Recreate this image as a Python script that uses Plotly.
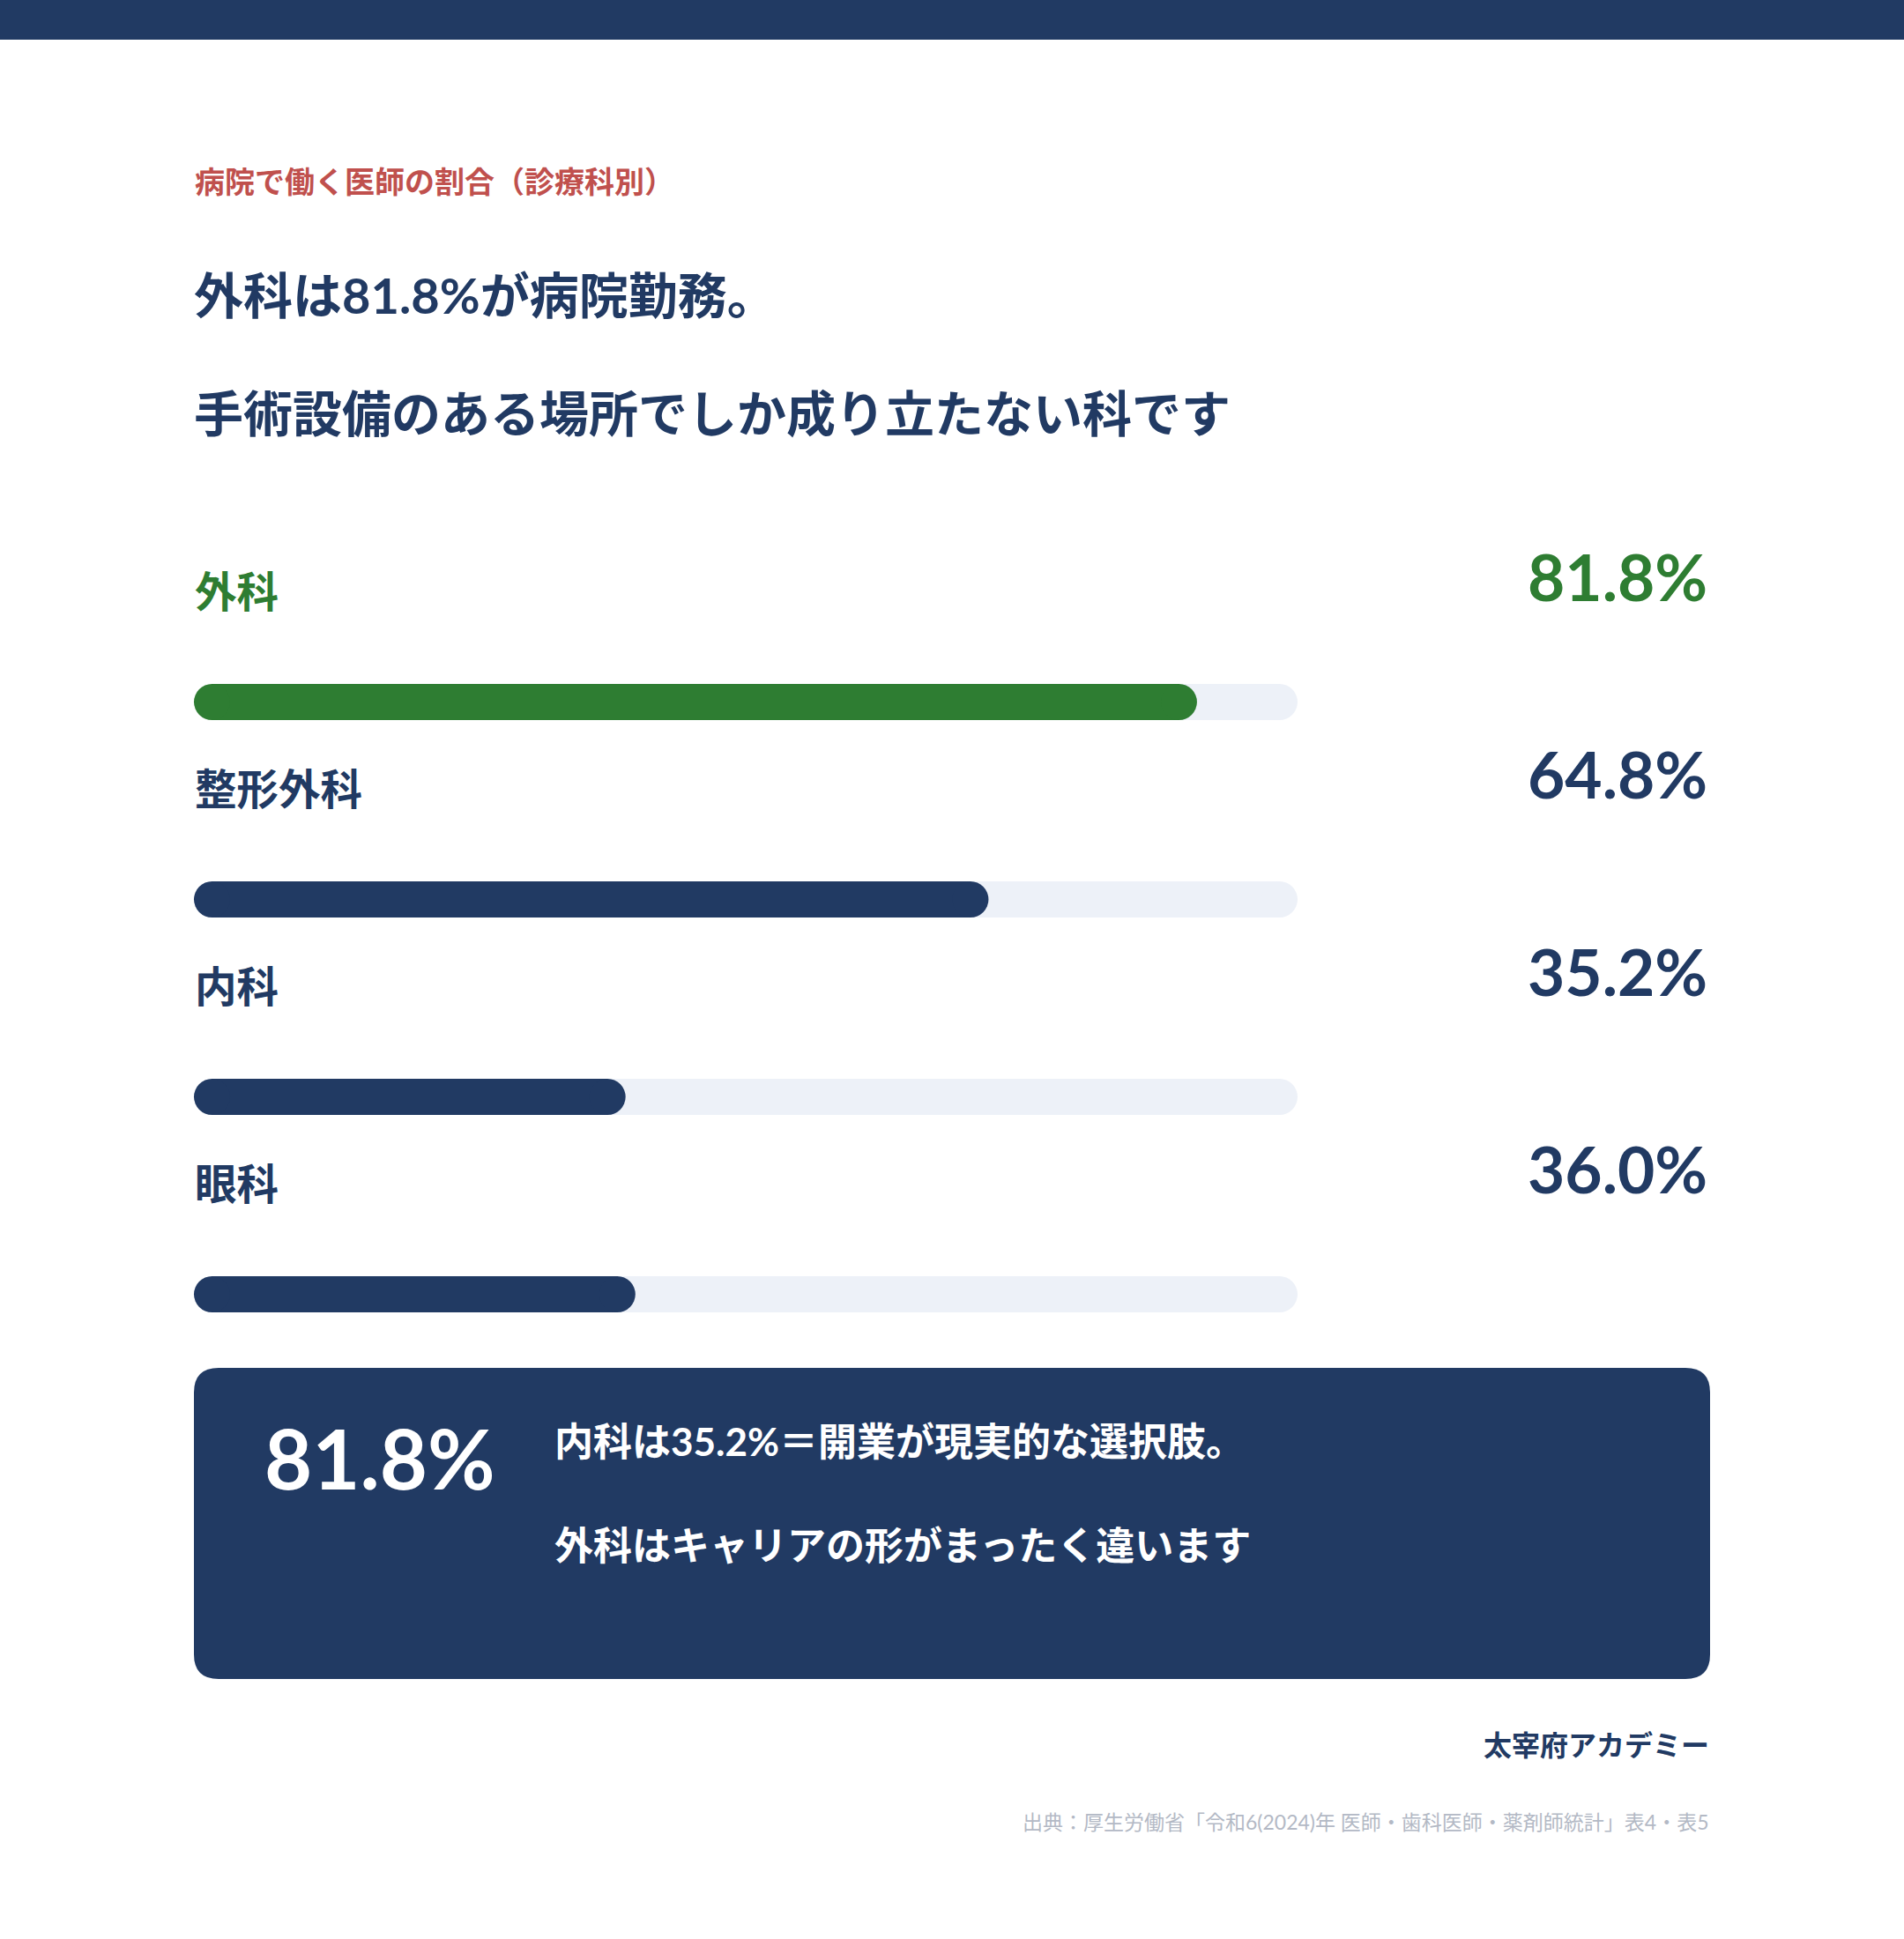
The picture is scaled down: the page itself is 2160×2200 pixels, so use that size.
import plotly.graph_objects as go

# ---------------- data ----------------
categories = ["外科", "整形外科", "内科", "眼科"]
values = [81.8, 64.8, 35.2, 36.0]
highlight = "外科"
axis_max = 90

subtitle = "病院で働く医師の割合（診療科別）"
title_line1 = "外科は81.8%が病院勤務。"
title_line2 = "手術設備のある場所でしか成り立たない科です"
box_line2 = "外科はキャリアの形がまったく違います"
brand = "太宰府アカデミー"
source = "出典：厚生労働省「令和6(2024)年 医師・歯科医師・薬剤師統計」表4・表5"

# ---------------- style ----------------
W, H = 2160, 2200
NAVY = "#213A63"
GREEN = "#2E7D32"
TRACK = "#EDF1F8"
RED = "#C0504D"
GRAY = "#B3B9C5"
FONT = "Lato, 'Noto Sans CJK JP', sans-serif"


def px_x(p):
    return p / W


def px_y(p):
    return 1 - p / H


track_left_px, track_right_px = 220, 1472
row0_px, row_step_px = 796.5, 224
bar_px = 41

n = len(categories)
idx = list(range(n))
bar_w = bar_px / row_step_px
r = (bar_px / 2) / (track_right_px - track_left_px) * axis_max  # cap radius in data units
fill_colors = [GREEN if c == highlight else NAVY for c in categories]

fig = go.Figure()

# background tracks: body + right round cap (left cap is always covered by the fill)
fig.add_trace(go.Bar(y=idx, x=[axis_max - 2 * r] * n, base=[r] * n, orientation="h", width=bar_w,
                     marker=dict(color=TRACK, line=dict(width=0)), hoverinfo="skip", showlegend=False))
# filled bars: body
fig.add_trace(go.Bar(y=idx, x=[v - 2 * r for v in values], base=[r] * n, orientation="h", width=bar_w,
                     marker=dict(color=fill_colors, line=dict(width=0)), hoverinfo="skip", showlegend=False))
fig.add_trace(go.Scatter(x=[axis_max - r] * n, y=idx, mode="markers", cliponaxis=False,
                         marker=dict(size=bar_px, color=TRACK, line=dict(width=0)),
                         hoverinfo="skip", showlegend=False))
fig.add_trace(go.Scatter(x=[r] * n + [v - r for v in values], y=idx + idx, mode="markers", cliponaxis=False,
                         marker=dict(size=bar_px, color=fill_colors + fill_colors, line=dict(width=0)),
                         hoverinfo="skip", showlegend=False))

ann = []


def text(x, y, s, size, color, anchor="left", weight=700, xref="paper", yref="paper"):
    ann.append(dict(x=x, y=y, xref=xref, yref=yref, text=s, showarrow=False,
                    xanchor=anchor, yanchor="middle",
                    font=dict(family=FONT, size=size, color=color, weight=weight)))


text(px_x(219), px_y(206), subtitle, 34, RED)
text(px_x(218), px_y(334), title_line1, 56, NAVY)
text(px_x(218), px_y(469), title_line2, 56, NAVY)

label_off = 126 / row_step_px
value_off = 143 / row_step_px
for i, (c, v, col) in enumerate(zip(categories, values, fill_colors)):
    text(px_x(219), i - label_off, c, 47.5, col, yref="y")
    text(px_x(1939), i - value_off, f"{v:.1f}%", 73, col, anchor="right", yref="y")

# summary box
box = dict(l=220, r=1940, t=1552, b=1905, rad=28)
text(px_x(298), px_y(1654), f"{values[0]:.1f}%", 93.5, "white")
text(px_x(627), px_y(1635), f"内科は{values[2]:.1f}%＝開業が現実的な選択肢。", 44, "white")
text(px_x(627), px_y(1753), box_line2, 44, "white")

text(px_x(1941), px_y(1979), brand, 32, NAVY, anchor="right")
text(px_x(1941), px_y(2067), source, 23, GRAY, anchor="right", weight=400)


def rounded_rect(l, rr, t, b, rad):
    L, R, T, B = px_x(l), px_x(rr), px_y(t), px_y(b)
    rx, ry = rad / W, rad / H
    return (f"M {L+rx},{T} L {R-rx},{T} Q {R},{T} {R},{T-ry} "
            f"L {R},{B+ry} Q {R},{B} {R-rx},{B} L {L+rx},{B} "
            f"Q {L},{B} {L},{B+ry} L {L},{T-ry} Q {L},{T} {L+rx},{T} Z")


shapes = [
    dict(type="rect", xref="paper", yref="paper", x0=0, x1=1, y0=px_y(45), y1=1,
         fillcolor=NAVY, line=dict(width=0), layer="below"),
    dict(type="path", xref="paper", yref="paper",
         path=rounded_rect(box["l"], box["r"], box["t"], box["b"], box["rad"]),
         fillcolor=NAVY, line=dict(width=0), layer="below"),
]

fig.update_layout(
    width=W, height=H, margin=dict(l=0, r=0, t=0, b=0),
    paper_bgcolor="white", plot_bgcolor="rgba(0,0,0,0)",
    barmode="overlay",
    xaxis=dict(domain=[px_x(track_left_px), px_x(track_right_px)], range=[0, axis_max],
               visible=False, fixedrange=True),
    yaxis=dict(domain=[px_y(row0_px + row_step_px * (n - 0.5)), px_y(row0_px - row_step_px * 1.0)],
               range=[n - 0.5, -1.0], visible=False, fixedrange=True),
    annotations=ann, shapes=shapes,
    font=dict(family=FONT),
)

fig.write_html("out.html", config={"displayModeBar": False},
               post_script="document.body.style.margin='0';document.body.style.padding='0';")
